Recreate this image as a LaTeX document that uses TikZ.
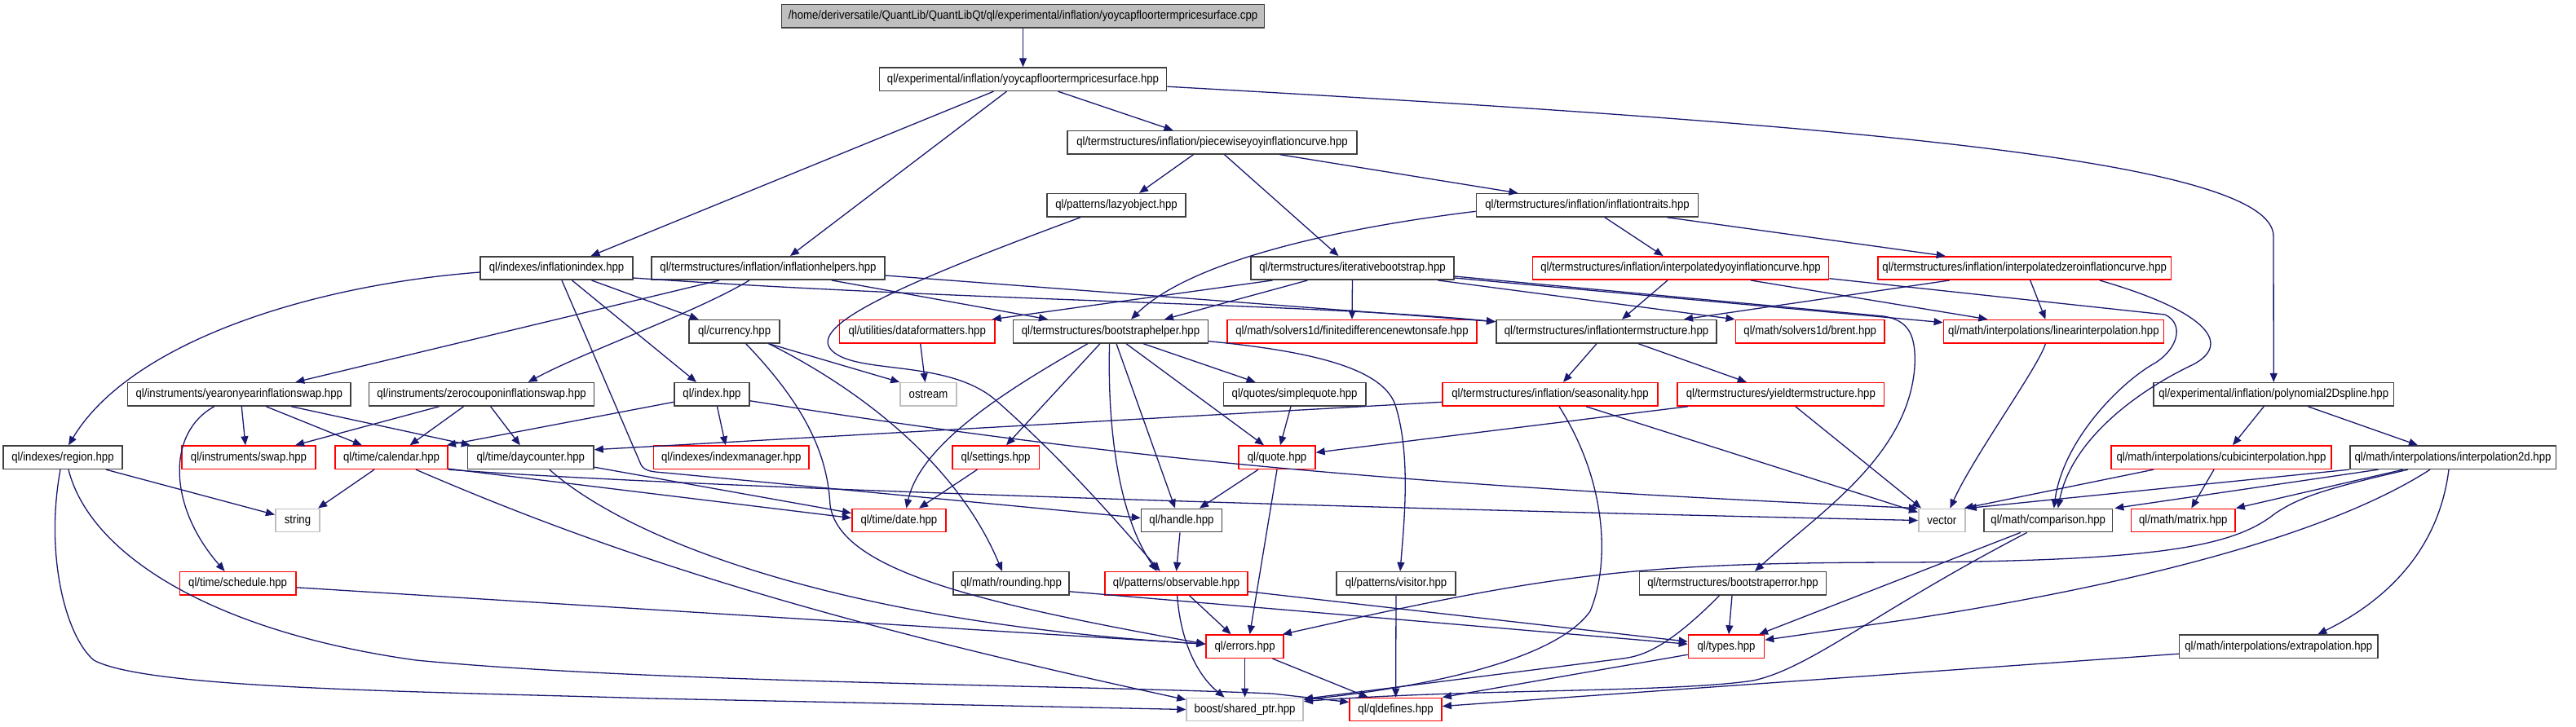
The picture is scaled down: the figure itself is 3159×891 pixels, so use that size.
\documentclass[tikz,border=0pt]{standalone}
\usepackage{fontspec}
\usetikzlibrary{arrows.meta}
\newfontfamily\nodefont[FakeStretch=0.89]{Liberation Sans}
\definecolor{edgeblue}{HTML}{191970}
\definecolor{boxgray}{HTML}{404040}
\definecolor{extgray}{HTML}{BFBFBF}
\definecolor{boxred}{HTML}{FF0000}
\tikzset{
  nb/.style={draw=boxgray, line width=0.8pt, inner sep=0pt, minimum height=14.15pt,
    font={\nodefont\fontsize{7.4}{8}\selectfont}, text=black},
  nr/.style={nb, draw=boxred},
  ng/.style={nb, draw=extgray},
  dep/.style={draw=edgeblue, line width=0.65pt, -{Triangle[length=5.5pt,width=4.5pt]}},
}
\begin{document}
\begin{tikzpicture}[x=0.5pt,y=-0.5pt]
\useasboundingbox (0,0) rectangle (3159,891);
% ---------- nodes ----------
\node[nb, fill=extgray, minimum width=296pt] (top) at (1254.5,19.8) {/home/deriversatile/QuantLib/QuantLibQt/ql/experimental/inflation/yoycapfloortermpricesurface.cpp};
\node[nb, minimum width=176pt] (yoyhpp) at (1254.5,97.2) {ql/experimental/inflation/yoycapfloortermpricesurface.hpp};
\node[nb, minimum width=177.5pt] (piecewise) at (1486.5,174.7) {ql/termstructures/inflation/piecewiseyoyinflationcurve.hpp};
\node[nb, minimum width=85.25pt] (lazy) at (1369,251.8) {ql/patterns/lazyobject.hpp};
\node[nb, minimum width=136pt] (traits) at (1946.5,251.8) {ql/termstructures/inflation/inflationtraits.hpp};
\node[nb, minimum width=93.25pt] (infindex) at (682.5,329) {ql/indexes/inflationindex.hpp};
\node[nb, minimum width=143pt] (infhelpers) at (942,329) {ql/termstructures/inflation/inflationhelpers.hpp};
\node[nb, minimum width=124.5pt] (iterboot) at (1658.5,329) {ql/termstructures/iterativebootstrap.hpp};
\node[nr, minimum width=181.5pt] (interpyoy) at (2061,329) {ql/termstructures/inflation/interpolatedyoyinflationcurve.hpp};
\node[nr, minimum width=179.75pt] (interpzero) at (2482.7,329) {ql/termstructures/inflation/interpolatedzeroinflationcurve.hpp};
\node[nb, minimum width=55.35pt] (currency) at (900.6,406.7) {ql/currency.hpp};
\node[nr, minimum width=95.15pt] (dataf) at (1124.7,406.7) {ql/utilities/dataformatters.hpp};
\node[nb, minimum width=119.35pt] (bhelper) at (1362,406.7) {ql/termstructures/bootstraphelper.hpp};
\node[nr, minimum width=153.25pt] (fdns) at (1658,406.7) {ql/math/solvers1d/finitedifferencenewtonsafe.hpp};
\node[nb, minimum width=135.2pt] (infterm) at (1970,406.7) {ql/termstructures/inflationtermstructure.hpp};
\node[nr, minimum width=91.3pt] (brent) at (2219.7,406.7) {ql/math/solvers1d/brent.hpp};
\node[nr, minimum width=135pt] (linint) at (2518.4,406.7) {ql/math/interpolations/linearinterpolation.hpp};
\node[nb, minimum width=136.7pt] (yoyswap) at (293.3,483.8) {ql/instruments/yearonyearinflationswap.hpp};
\node[nb, minimum width=138pt] (zcswap) at (590.6,483.8) {ql/instruments/zerocouponinflationswap.hpp};
\node[nb, minimum width=46.15pt] (index) at (873,483.8) {ql/index.hpp};
\node[ng, minimum width=34.5pt] (ostream) at (1138.5,483.8) {ostream};
\node[nb, minimum width=87.2pt] (squote) at (1587.6,483.8) {ql/quotes/simplequote.hpp};
\node[nr, minimum width=132.25pt] (season) at (1901,483.8) {ql/termstructures/inflation/seasonality.hpp};
\node[nr, minimum width=126.75pt] (yts) at (2183.8,483.8) {ql/termstructures/yieldtermstructure.hpp};
\node[nb, minimum width=147.2pt] (poly) at (2788.2,483.8) {ql/experimental/inflation/polynomial2Dspline.hpp};
\node[nb, minimum width=73pt] (region) at (77,561.2) {ql/indexes/region.hpp};
\node[nr, minimum width=82pt] (swap) at (305,561.2) {ql/instruments/swap.hpp};
\node[nr, minimum width=69.15pt] (calendar) at (480,561.2) {ql/time/calendar.hpp};
\node[nb, minimum width=77.25pt] (daycounter) at (650.8,561.2) {ql/time/daycounter.hpp};
\node[nr, minimum width=95.4pt] (idxmgr) at (896.8,561.2) {ql/indexes/indexmanager.hpp};
\node[nr, minimum width=53.3pt] (settings) at (1221,561.2) {ql/settings.hpp};
\node[nr, minimum width=46.85pt] (quote) at (1566,561.2) {ql/quote.hpp};
\node[nr, minimum width=135pt] (cubic) at (2724,561.2) {ql/math/interpolations/cubicinterpolation.hpp};
\node[nb, minimum width=126.3pt] (interp2d) at (3008,561.2) {ql/math/interpolations/interpolation2d.hpp};
\node[ng, minimum width=27.25pt] (string) at (365,638.5) {string};
\node[nr, minimum width=57.65pt] (date) at (1102.4,638.5) {ql/time/date.hpp};
\node[nb, minimum width=49.5pt] (handle) at (1449,638.5) {ql/handle.hpp};
\node[ng, minimum width=28.6pt] (vector) at (2381.4,638.5) {vector};
\node[nb, minimum width=78.8pt] (comparison) at (2511.7,638.5) {ql/math/comparison.hpp};
\node[nr, minimum width=63.75pt] (matrix) at (2677.3,638.5) {ql/math/matrix.hpp};
\node[nr, minimum width=71.2pt] (schedule) at (291.6,715.8) {ql/time/schedule.hpp};
\node[nb, minimum width=71.15pt] (rounding) at (1240,715.8) {ql/math/rounding.hpp};
\node[nr, minimum width=87.5pt] (observable) at (1442.6,715.8) {ql/patterns/observable.hpp};
\node[nb, minimum width=73pt] (visitor) at (1712,715.8) {ql/patterns/visitor.hpp};
\node[nb, minimum width=114.5pt] (bserror) at (2125,715.8) {ql/termstructures/bootstraperror.hpp};
\node[nr, minimum width=47.5pt] (errors) at (1526.6,793.2) {ql/errors.hpp};
\node[nr, minimum width=46.5pt] (types) at (2117,793.2) {ql/types.hpp};
\node[nb, minimum width=121.7pt] (extrap) at (2794.3,793.2) {ql/math/interpolations/extrapolation.hpp};
\node[ng, minimum width=71.5pt] (sptr) at (1526.6,870.5) {boost/shared\_ptr.hpp};
\node[nr, minimum width=56.5pt] (qldef) at (1711.6,870.5) {ql/qldefines.hpp};
% ---------- edges ----------
\draw[dep] (top.south) -- (yoyhpp.north);
\draw[dep] ([shift={(-36,0)}]yoyhpp.south) -- ([shift={(42,0)}]infindex.north);
\draw[dep] ([shift={(-20,0)}]yoyhpp.south) -- ([shift={(27,0)}]infhelpers.north);
\draw[dep] ([shift={(43,0)}]yoyhpp.south) -- ([shift={(-48,0)}]piecewise.north);
\draw[dep] ([shift={(0,9)}]yoyhpp.east) .. controls (2250,152) and (2788,195) .. (2788,290) -- (poly.north);
\draw[dep] ([shift={(-23,0)}]piecewise.south) -- ([shift={(28,0)}]lazy.north);
\draw[dep] ([shift={(15,0)}]piecewise.south) -- ([shift={(-17,0)}]iterboot.north);
\draw[dep] ([shift={(83,0)}]piecewise.south) -- ([shift={(-85,0)}]traits.north);
\draw[dep] ([shift={(-44,0)}]lazy.south) .. controls (1100,350) and (990,400) .. (1020,430) .. controls (1050,460) and (1160,440) .. (1220,490) .. controls (1300,560) and (1370,640) .. ([shift={(-20,0)}]observable.north);
\draw[dep] ([shift={(0,7.5)}]traits.west) .. controls (1640,280) and (1460,320) .. ([shift={(25,0)}]bhelper.north);
\draw[dep] ([shift={(21.5,0)}]traits.south) -- ([shift={(-21.4,0)}]interpyoy.north);
\draw[dep] ([shift={(98,0)}]traits.south) -- ([shift={(-97,0)}]interpzero.north);
\draw[dep] ([shift={(0,5)}]infindex.west) .. controls (380,350) and (160,420) .. ([shift={(7,0)}]region.north);
\draw[dep] ([shift={(43,0)}]infindex.south) -- ([shift={(-44,0)}]currency.north);
\draw[dep] ([shift={(19,0)}]infindex.south) -- ([shift={(-19,0)}]index.north);
\draw[dep] ([shift={(0,12)}]infindex.east) .. controls (1200,370) and (1600,372) .. ([shift={(0,-12)}]infterm.west);
\draw[dep] ([shift={(6.5,0)}]infindex.south) -- (786,570) .. controls (790,578) and (800,579) .. (815,580) -- ([shift={(0,-3)}]handle.west);
\draw[dep] ([shift={(-60,0)}]infhelpers.south) -- ([shift={(69,0)}]yoyswap.north);
\draw[dep] ([shift={(-23,0)}]infhelpers.south) .. controls (850,385) and (720,430) .. ([shift={(57,0)}]zcswap.north);
\draw[dep] ([shift={(78,0)}]infhelpers.south) -- ([shift={(-77,0)}]bhelper.north);
\draw[dep] ([shift={(0,9)}]infhelpers.east) -- ([shift={(0,-12)}]infterm.west);
\draw[dep] ([shift={(-98,0)}]iterboot.south) -- ([shift={(-4,0)}]dataf.north east);
\draw[dep] ([shift={(-55,0)}]iterboot.south) -- ([shift={(66,0)}]bhelper.north);
\draw[dep] (iterboot.south) -- (fdns.north);
\draw[dep] ([shift={(105,0)}]iterboot.south) -- (brent.north west);
\draw[dep] ([shift={(0,10)}]iterboot.east) -- (2310,388) .. controls (2340,393) and (2350,410) .. (2348,450) .. controls (2340,560) and (2230,630) .. ([shift={(27,0)}]bserror.north);
\draw[dep] ([shift={(0,12)}]iterboot.east) -- ([shift={(0,-11)}]linint.west);
\draw[dep] ([shift={(-16,0)}]interpyoy.south) -- ([shift={(19,0)}]infterm.north);
\draw[dep] ([shift={(86,0)}]interpyoy.south) -- ([shift={(-81,0)}]linint.north);
\draw[dep] ([shift={(0,12.7)}]interpyoy.east) -- (2655,386) .. controls (2680,398) and (2670,430) .. (2640,447) .. controls (2600,470) and (2530,540) .. ([shift={(7,0)}]comparison.north);
\draw[dep] ([shift={(-92,0)}]interpzero.south) -- ([shift={(95,0)}]infterm.north);
\draw[dep] ([shift={(7,0)}]interpzero.south) -- ([shift={(-10,0)}]linint.north);
\draw[dep] ([shift={(92,0)}]interpzero.south) .. controls (2700,380) and (2740,420) .. (2690,447) .. controls (2620,480) and (2540,540) .. ([shift={(12,0)}]comparison.north);
\draw[dep] ([shift={(42,0)}]currency.south) -- (ostream.north west);
\draw[dep] ([shift={(42,0)}]currency.south) .. controls (1040,470) and (1170,560) .. ([shift={(-11,0)}]rounding.north);
\draw[dep] ([shift={(14,0)}]currency.south) .. controls (990,500) and (1015,560) .. (1018,620) .. controls (1030,700) and (1200,740) .. ([shift={(0,-3)}]errors.west);
\draw[dep] ([shift={(4,0)}]dataf.south) -- ([shift={(-4,0)}]ostream.north);
\draw[dep] ([shift={(-28,0)}]bhelper.south) .. controls (1250,470) and (1130,540) .. ([shift={(9,0)}]date.north);
\draw[dep] ([shift={(-13,0)}]bhelper.south) -- ([shift={(13,0)}]settings.north);
\draw[dep] ([shift={(-1.4,0)}]bhelper.south) .. controls (1358,520) and (1370,630) .. ([shift={(-24,0)}]observable.north);
\draw[dep] ([shift={(7,0)}]bhelper.south) -- ([shift={(-8,0)}]handle.north);
\draw[dep] ([shift={(19,0)}]bhelper.south) -- ([shift={(-16,0)}]quote.north);
\draw[dep] ([shift={(40,0)}]bhelper.south) -- ([shift={(-48,0)}]squote.north);
\draw[dep] ([shift={(0,12)}]bhelper.east) .. controls (1620,432) and (1700,455) .. (1712,500) .. controls (1730,560) and (1722,640) .. ([shift={(5,0)}]visitor.north);
\draw[dep] ([shift={(-12,0)}]infterm.south) -- ([shift={(16,0)}]season.north);
\draw[dep] ([shift={(39,0)}]infterm.south) -- ([shift={(-42,0)}]yts.north);
\draw[dep] ([shift={(-10,0)}]linint.south) .. controls (2500,450) and (2420,560) .. ([shift={(10,0)}]vector.north);
\draw[dep] ([shift={(-30.5,0)}]yoyswap.south) .. controls (205,530) and (205,620) .. ([shift={(-16,0)}]schedule.north);
\draw[dep] ([shift={(3,0)}]yoyswap.south) -- ([shift={(-4,0)}]swap.north);
\draw[dep] ([shift={(33,0)}]yoyswap.south) -- ([shift={(-36,0)}]calendar.north);
\draw[dep] ([shift={(64,0)}]yoyswap.south) -- ([shift={(-74,0)}]daycounter.north);
\draw[dep] ([shift={(-52,0)}]zcswap.south) -- ([shift={(57,0)}]swap.north);
\draw[dep] ([shift={(-22,0)}]zcswap.south) -- ([shift={(22.6,0)}]calendar.north);
\draw[dep] ([shift={(11,0)}]zcswap.south) -- ([shift={(-13,0)}]daycounter.north);
\draw[dep] ([shift={(6.5,0)}]index.south) -- ([shift={(-7,0)}]idxmgr.north);
\draw[dep] ([shift={(0,9.5)}]index.west) -- ([shift={(-2,0)}]calendar.north east);
\draw[dep] ([shift={(0,8)}]index.east) .. controls (1350,560) and (1700,595) .. (vector.north west);
\draw[dep] ([shift={(-4.6,0)}]squote.south) -- ([shift={(4,0)}]quote.north);
\draw[dep] ([shift={(0,9.5)}]season.west) -- ([shift={(0,-9.5)}]daycounter.east);
\draw[dep] ([shift={(11,0)}]season.south) .. controls (1970,590) and (1975,690) .. (1950,750) .. controls (1900,820) and (1700,848) .. ([shift={(0,-12)}]sptr.east);
\draw[dep] ([shift={(44,0)}]season.south) -- ([shift={(0,-10)}]vector.west);
\draw[dep] ([shift={(-114,0)}]yts.south) -- ([shift={(0,-6)}]quote.east);
\draw[dep] ([shift={(18,0)}]yts.south) -- ([shift={(4,0)}]vector.north west);
\draw[dep] ([shift={(-12,0)}]poly.south) -- ([shift={(14,0)}]cubic.north);
\draw[dep] ([shift={(42,0)}]poly.south) -- ([shift={(-43,0)}]interp2d.north);
\draw[dep] ([shift={(53,0)}]region.south) -- ([shift={(0,-7)}]string.west);
\draw[dep] ([shift={(-3,0)}]region.south) .. controls (55,680) and (80,780) .. (115,810) .. controls (180,845) and (500,848) .. (800,857) -- (sptr.west);
\draw[dep] ([shift={(7,0)}]region.south) .. controls (110,680) and (260,775) .. (510,810) .. controls (800,838) and (1300,840) .. (1560,851) -- ([shift={(0,-9)}]qldef.west);
\draw[dep] ([shift={(-21,0)}]calendar.south) -- ([shift={(-3,0)}]string.north east);
\draw[dep] ([shift={(0,-1)}]calendar.south east) -- ([shift={(0,-3)}]date.west);
\draw[dep] (calendar.south east) .. controls (800,595) and (1500,620) .. (vector.west);
\draw[dep] ([shift={(30,0)}]calendar.south) .. controls (750,680) and (1000,760) .. ([shift={(0,-12)}]sptr.west);
\draw[dep] ([shift={(0,12)}]daycounter.east) -- ([shift={(0,-9)}]date.west);
\draw[dep] ([shift={(23,0)}]daycounter.south) .. controls (780,670) and (1050,765) .. ([shift={(0,-3)}]errors.west);
\draw[dep] ([shift={(-22.6,0)}]settings.south) -- ([shift={(24.6,0)}]date.north);
\draw[dep] ([shift={(-23,0)}]quote.south) -- ([shift={(22,0)}]handle.north);
\draw[dep] (quote.south) -- ([shift={(6,0)}]errors.north);
\draw[dep] ([shift={(-83,0)}]cubic.south) -- ([shift={(-2,0)}]vector.north east);
\draw[dep] ([shift={(-9,0)}]cubic.south) -- ([shift={(10,0)}]matrix.north);
\draw[dep] (interp2d.south west) -- ([shift={(2,0)}]vector.north east);
\draw[dep] ([shift={(-91.5,0)}]interp2d.south) -- ([shift={(2,0)}]comparison.north east);
\draw[dep] ([shift={(-61,0)}]interp2d.south) -- (matrix.north east);
\draw[dep] ([shift={(-55,0)}]interp2d.south) .. controls (2850,600) and (2820,610) .. (2790,630) .. controls (2740,670) and (2650,688) .. (2340,690) .. controls (2000,690) and (1900,705) .. ([shift={(-2,0)}]errors.north east);
\draw[dep] ([shift={(-28,0)}]interp2d.south) .. controls (2850,660) and (2600,720) .. (2340,760) -- ([shift={(0,-8)}]types.east);
\draw[dep] ([shift={(-5,0)}]interp2d.south) .. controls (2990,680) and (2920,740) .. ([shift={(48,0)}]extrap.north);
\draw[dep] ([shift={(-2,0)}]handle.south) -- (observable.north);
\draw[dep] ([shift={(-34,0)}]comparison.south) -- ([shift={(40,0)}]types.north);
\draw[dep] ([shift={(-26,0)}]comparison.south) .. controls (2300,750) and (2220,820) .. (2150,835) .. controls (2050,850) and (1800,845) .. ([shift={(0,-10)}]sptr.east);
\draw[dep] ([shift={(0,5)}]schedule.east) -- ([shift={(0,-3)}]errors.west);
\draw[dep] ([shift={(0,10)}]rounding.east) -- ([shift={(0,-3)}]types.west);
\draw[dep] ([shift={(16,0)}]observable.south) -- ([shift={(-17,0)}]errors.north);
\draw[dep] ([shift={(1,0)}]observable.south) .. controls (1448,790) and (1470,830) .. ([shift={(-25,0)}]sptr.north);
\draw[dep] ([shift={(0,10)}]observable.east) -- ([shift={(0,-6)}]types.west);
\draw[dep] (visitor.south) -- (qldef.north);
\draw[dep] ([shift={(-1,0)}]bserror.south) -- ([shift={(3,0)}]types.north);
\draw[dep] ([shift={(-16.5,0)}]bserror.south) .. controls (2040,800) and (2010,805) .. (1990,808) -- ([shift={(0,-13)}]sptr.east);
\draw[dep] (errors.south) -- (sptr.north);
\draw[dep] ([shift={(34,0)}]errors.south) -- ([shift={(-34,0)}]qldef.north);
\draw[dep] ([shift={(0,10)}]types.west) -- (qldef.north east);
\draw[dep] ([shift={(0,9)}]extrap.west) -- ([shift={(0,-4)}]qldef.east);
\end{tikzpicture}
\end{document}
